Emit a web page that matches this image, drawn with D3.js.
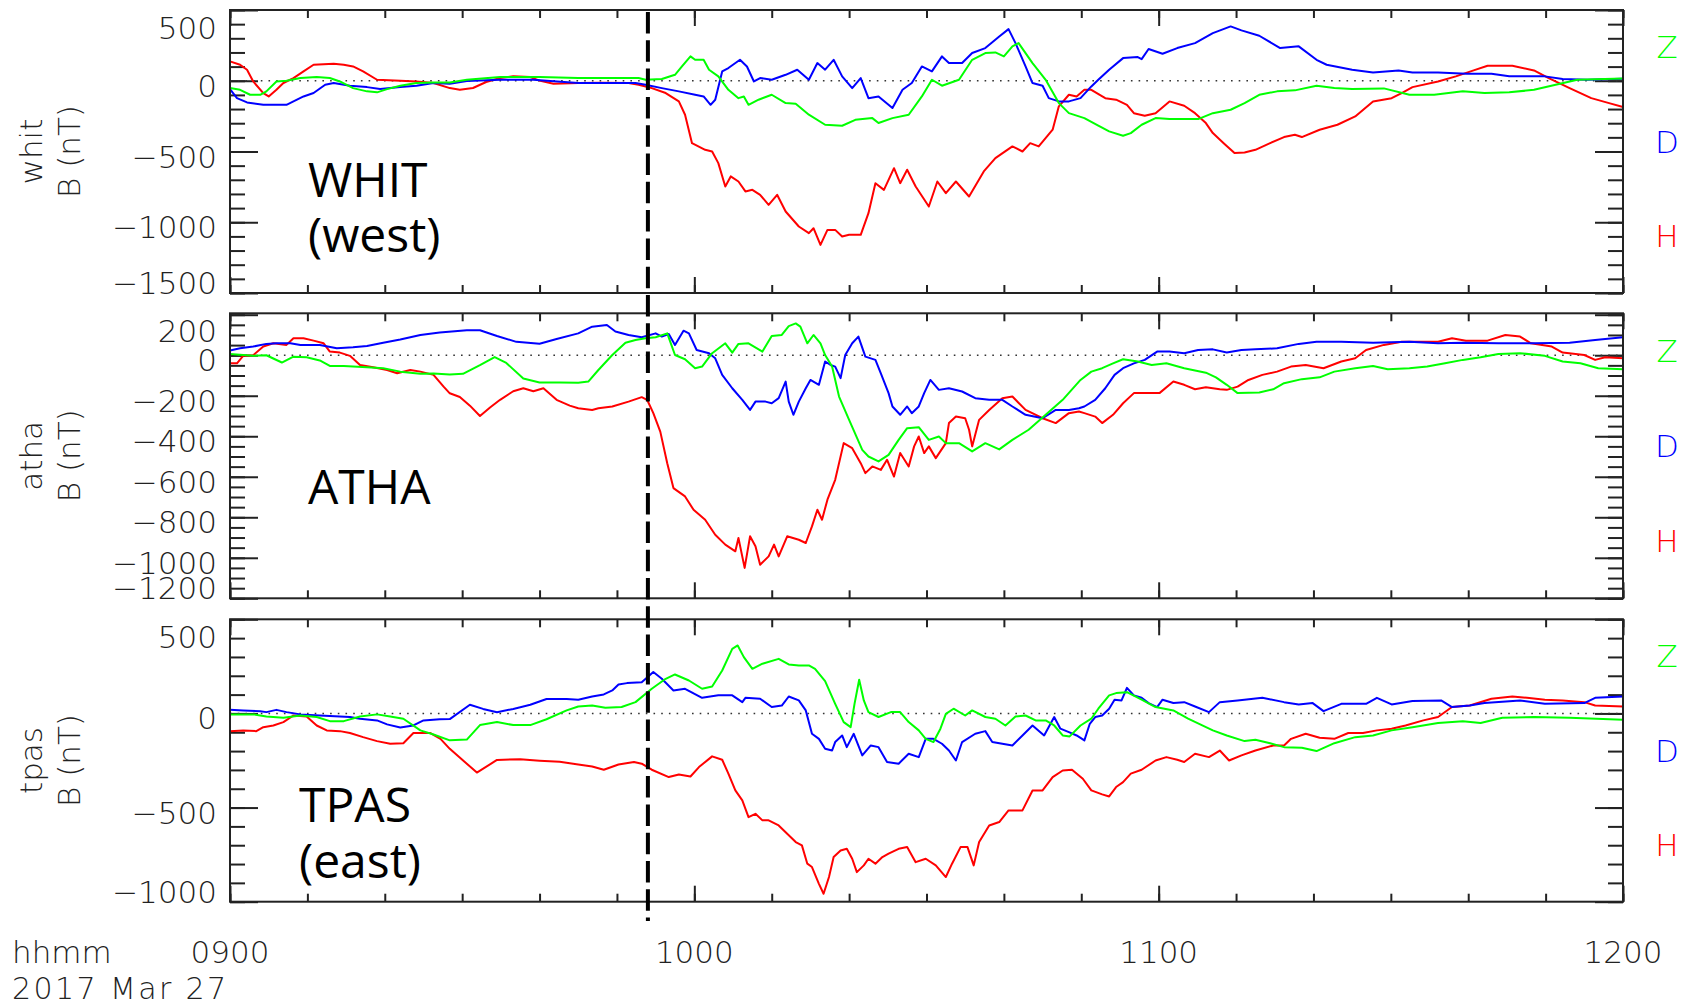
<!DOCTYPE html>
<html>
<head>
<meta charset="utf-8">
<script src="https://cdn.jsdelivr.net/npm/d3@7"></script>
<style>
  body { margin: 0; background: #fff; }
  svg { display: block; }
  .hershey { font-family: "DejaVu Sans", sans-serif; font-weight: 200; fill: #222; }
  .station { font-family: "Open Sans", "Noto Sans", sans-serif; font-size: 48px; fill: #000; }
</style>
</head>
<body>
<div id="chart"></div>
<script>
// time in minutes after 09:00, field in nT

// WHIT (west)
const whitH = [[0,137],[1.3,113],[2.2,78],[3.0,-5],[4.3,-87],[5.0,-111],[6.0,-64],[6.9,-16],[8.2,19],[9.5,66],[10.8,113],[13.4,120],[14.7,113],[15.9,101],[17.2,66],[19.0,7],[22.0,0],[24.1,-5],[26.3,-16],[28.4,-52],[29.7,-63],[31.4,-51],[33.1,-9],[34.9,19],[36.6,32],[38.8,26],[40.1,-1],[41.8,-21],[45.0,-16],[48,-14],[51.5,-16],[52.8,-28],[54.5,-52],[56.3,-87],[58.0,-146],[58.8,-240],[59.7,-441],[61.4,-488],[62.3,-500],[63.1,-582],[64.0,-747],[64.7,-676],[65.7,-712],[66.6,-782],[67.5,-771],[68.5,-806],[69.6,-877],[70.7,-806],[71.8,-924],[73.5,-1030],[74.8,-1077],[75.4,-1042],[76.3,-1160],[77.2,-1054],[78.2,-1054],[79.1,-1101],[80.0,-1089],[81.5,-1089],[82.5,-936],[83.4,-724],[84.5,-771],[85.8,-618],[86.6,-724],[87.5,-629],[88.6,-747],[90.3,-889],[91.4,-712],[92.5,-794],[93.8,-712],[95.5,-818],[97.4,-641],[98.9,-547],[101.1,-464],[102.4,-500],[103.4,-441],[104.5,-464],[106.3,-346],[107.1,-181],[108.4,-99],[109.4,-111],[110.4,-64],[111.3,-64],[113.1,-123],[114.5,-134],[115.9,-170],[116.8,-229],[118.2,-247],[119.6,-229],[121.4,-146],[123.3,-177],[124.7,-229],[126.1,-299],[127.0,-370],[128.4,-441],[129.8,-511],[131.1,-507],[132.5,-488],[134.4,-441],[136.2,-398],[137.6,-382],[138.5,-398],[140.8,-346],[143.1,-311],[145.4,-252],[147.7,-146],[150.1,-123],[151.4,-87],[152.8,-45],[156.1,-5],[158.4,31],[160.7,73],[162.5,106],[165.7,106],[168.5,73],[170.4,19],[173.1,-52],[175.9,-123],[178.2,-158],[180,-186]];
const whitD = [[0,-59],[0.9,-123],[2.2,-153],[4.3,-170],[7.3,-170],[8.2,-146],[9.5,-111],[10.8,-87],[12.3,-28],[13.4,-16],[15.5,-35],[17.7,-45],[19.4,-59],[22.0,-45],[24.1,-35],[26.3,-16],[28.4,-21],[30.6,-1],[34.9,7],[39.2,7],[41.4,-1],[45.0,-16],[52.4,-16],[53.7,-28],[55.8,-52],[58.0,-75],[60.1,-99],[61.2,-111],[62.1,-170],[62.7,-134],[63.6,66],[64.4,90],[65.9,148],[66.8,101],[67.7,-5],[68.5,19],[70.0,7],[71.8,42],[73.3,78],[74.8,7],[75.9,125],[76.9,78],[78.0,148],[79.1,31],[80.4,-52],[81.5,19],[82.5,-123],[83.8,-111],[85.6,-193],[86.9,-64],[88.1,-16],[89.4,101],[90.7,66],[92.0,172],[92.9,125],[94.6,125],[95.9,196],[97.6,231],[99.4,313],[100.6,365],[101.5,266],[102.8,101],[103.7,-16],[105.0,-35],[105.8,-123],[107.1,-146],[108.4,-146],[109.9,-123],[111.3,-40],[112.2,7],[113.6,78],[115.4,160],[117.3,167],[117.8,153],[118.7,224],[120.5,191],[122.4,231],[124.7,266],[127.0,337],[129.3,384],[130.7,356],[133.0,318],[135.7,231],[138.1,243],[140.4,148],[141.7,113],[145.0,78],[147.7,59],[151.0,73],[152.8,59],[156.1,59],[159.8,49],[163.0,49],[165.3,31],[169.9,31],[172.2,12],[175.4,7],[180,14]];
const whitZ = [[0,-52],[1.3,-64],[2.6,-99],[3.9,-99],[4.7,-75],[6.0,-5],[7.3,0],[9.1,19],[11.2,26],[12.9,19],[14.2,-5],[15.9,-52],[17.7,-75],[19.0,-82],[20.3,-59],[22.0,-35],[24.1,-16],[26.3,-12],[28.4,-12],[30.6,7],[34.9,26],[40,26],[45.0,19],[52.8,19],[53.7,7],[55.8,12],[57.5,42],[58.4,101],[59.5,172],[60.1,148],[61.2,148],[61.9,78],[63.1,31],[64.4,-64],[65.7,-123],[66.4,-111],[67.0,-170],[68.3,-134],[70.0,-99],[71.8,-158],[73.1,-163],[74.8,-240],[76.9,-311],[79.1,-318],[80.8,-276],[83.0,-264],[83.8,-299],[85.6,-264],[87.7,-240],[89.4,-111],[90.7,7],[92.0,-35],[94.2,7],[95.9,148],[97.6,196],[98.9,200],[100.0,172],[101.1,243],[101.9,266],[103.7,125],[105.4,7],[107.1,-158],[108.4,-229],[109.7,-252],[110.4,-264],[112.2,-318],[113.6,-358],[115.4,-389],[116.4,-370],[117.8,-311],[119.6,-264],[121.4,-271],[125.1,-271],[127.0,-229],[129.3,-205],[131.1,-158],[133.0,-99],[135.3,-75],[137.6,-68],[140.4,-35],[142.7,-52],[145.0,-59],[149.1,-54],[152.4,-99],[155.6,-99],[159.3,-75],[162.1,-87],[165.3,-82],[168.5,-64],[171.3,-28],[174.1,7],[180,16]];

// ATHA
const athaH = [[0,-40],[0.9,-40],[1.7,-3],[3.0,0],[4.3,43],[5.6,59],[7.3,51],[8.2,84],[9.5,84],[10.8,72],[12.1,59],[12.9,18],[14.2,13],[15.5,-3],[16.8,-48],[18.5,-59],[20.3,-73],[21.6,-89],[23.3,-73],[24.6,-81],[26.3,-97],[27.6,-155],[28.4,-188],[29.7,-206],[31.0,-249],[32.3,-300],[33.6,-258],[34.9,-220],[36.6,-178],[37.9,-163],[39.2,-178],[40.5,-163],[42.2,-220],[43.9,-249],[45.0,-262],[46.8,-270],[47.6,-262],[49.4,-253],[51.5,-229],[53.2,-207],[53.9,-220],[54.7,-286],[55.6,-377],[56.5,-533],[57.3,-656],[58.8,-697],[59.9,-763],[61.4,-812],[62.7,-886],[64.0,-935],[65.3,-968],[65.7,-902],[66.5,-1050],[67.2,-894],[67.9,-943],[68.5,-1034],[69.6,-993],[70.3,-935],[70.9,-993],[72.0,-894],[73.5,-911],[74.4,-927],[75.2,-845],[75.9,-763],[76.5,-812],[77.2,-713],[78.2,-615],[79.3,-434],[80.4,-459],[81.5,-533],[82.1,-582],[83.0,-549],[84.1,-566],[84.9,-516],[85.8,-599],[86.6,-483],[87.7,-549],[88.4,-450],[89.0,-401],[89.7,-483],[90.3,-450],[91.2,-508],[92.5,-434],[92.9,-335],[93.8,-303],[95.0,-311],[95.5,-368],[95.9,-450],[96.8,-319],[98.1,-270],[99.8,-212],[101.1,-204],[102.8,-270],[105.0,-311],[106.7,-335],[108.4,-286],[109.7,-278],[110.4,-286],[111.8,-303],[112.7,-335],[114.1,-294],[115.4,-237],[116.8,-187],[118.2,-187],[120.1,-187],[121.9,-130],[123.3,-146],[124.7,-168],[126.1,-158],[127.9,-168],[128.8,-171],[130.2,-155],[131.6,-122],[133.4,-97],[135.3,-81],[137.1,-56],[139.0,-48],[141.3,-64],[143.6,-31],[145.4,-15],[146.8,26],[149.1,51],[151.4,67],[153.7,67],[156.1,67],[157.9,84],[159.7,72],[162.5,72],[164.8,100],[166.7,92],[168.1,59],[170.8,43],[172.2,13],[175.0,1],[176.4,-23],[177.7,-10],[180,-15]];
const athaD = [[0,23],[1.3,34],[3.0,43],[4.7,56],[6.0,59],[7.8,59],[9.1,51],[11.6,51],[13.8,34],[15.9,39],[17.7,46],[19.8,62],[22.0,78],[24.6,100],[27.1,112],[30.6,123],[32.3,123],[34.5,95],[37.0,66],[40.0,57],[42.2,80],[45.0,108],[46.8,141],[48.7,149],[49.8,117],[51.5,100],[53.2,89],[55.0,108],[55.8,92],[56.7,105],[57.5,51],[58.6,121],[59.3,108],[60.3,26],[61.9,10],[62.7,-15],[63.6,-97],[64.9,-163],[66.2,-220],[67.2,-270],[67.9,-229],[69.2,-229],[70.0,-237],[70.9,-212],[71.8,-130],[72.2,-229],[72.8,-294],[73.5,-229],[74.4,-163],[75.0,-122],[76.1,-146],[76.9,-31],[77.6,-48],[78.2,-56],[78.9,-113],[79.5,1],[80.4,59],[81.2,92],[82.1,-7],[83.4,-23],[84.1,-89],[85.1,-187],[85.6,-253],[86.6,-294],[87.5,-253],[88.1,-286],[89.0,-253],[89.7,-187],[90.5,-122],[91.6,-171],[92.9,-163],[94.6,-179],[96.3,-212],[98.1,-220],[99.8,-220],[101.1,-253],[102.8,-294],[105.0,-311],[106.7,-270],[108.4,-270],[109.7,-262],[110.4,-253],[111.8,-220],[113.1,-163],[114.3,-97],[115.4,-64],[116.8,-40],[118.2,-23],[119.8,18],[121.4,18],[123.3,10],[125.1,26],[127.0,29],[128.8,13],[130.7,26],[132.5,29],[135.3,34],[138.1,56],[140.4,67],[143.6,67],[147.7,62],[152.4,66],[156.1,59],[159.3,62],[163.9,59],[168.5,59],[173.1,62],[176.4,75],[180,89]];
const athaZ = [[0,6],[3.0,-3],[4.7,0],[6.7,-36],[8.2,-7],[9.9,-10],[11.6,-26],[12.9,-53],[14.7,-53],[15.9,-56],[17.7,-59],[19.8,-64],[22.0,-81],[24.6,-92],[26.3,-90],[28.4,-95],[30.1,-92],[32.3,-49],[34.2,-9],[35.7,-38],[37.9,-115],[40.0,-135],[42.6,-135],[45.0,-136],[46.3,-130],[47.6,-73],[49.4,1],[51.1,62],[52.4,75],[53.7,84],[55.0,89],[56.5,108],[57.5,1],[58.8,-20],[60.1,-64],[61.0,-56],[62.3,10],[64.0,59],[64.9,13],[65.7,56],[67.0,59],[68.8,18],[70.0,95],[71.3,100],[72.2,144],[73.1,157],[73.7,141],[74.6,59],[75.4,100],[76.3,59],[76.9,1],[77.8,-56],[78.7,-204],[80.0,-319],[81.7,-467],[82.5,-500],[83.8,-524],[85.1,-492],[86.4,-418],[87.5,-360],[89.0,-355],[90.3,-418],[91.6,-401],[92.5,-434],[94.2,-434],[95.9,-475],[97.6,-434],[99.4,-465],[101.1,-418],[103.2,-368],[105.4,-294],[107.6,-220],[109.9,-122],[111.3,-81],[112.7,-64],[114.1,-40],[115.4,-20],[117.3,-31],[119.1,-48],[121.0,-40],[123.3,-64],[126.1,-86],[127.4,-109],[128.8,-146],[130.2,-187],[133.0,-184],[134.8,-168],[136.2,-138],[138.5,-118],[140.8,-109],[142.7,-81],[145.4,-64],[147.7,-53],[149.6,-69],[152.4,-64],[154.7,-56],[157.0,-40],[159.3,-23],[161.6,-10],[163.9,6],[166.7,10],[169.9,-3],[172.2,-31],[174.5,-40],[176.8,-64],[180,-69]];

// TPAS (east)
const tpasH = [[0,-94],[1.7,-90],[3.4,-94],[4.3,-73],[5.6,-64],[6.9,-46],[8.2,-11],[9.9,-16],[11.2,-64],[12.5,-90],[14.2,-94],[15.5,-104],[17.2,-126],[19.0,-147],[20.7,-161],[22.4,-158],[23.7,-104],[25.9,-104],[27.2,-135],[28.4,-188],[31.9,-314],[34.5,-247],[37.5,-243],[40.0,-251],[42.6,-257],[45.0,-271],[46.8,-282],[48.3,-299],[50.2,-271],[52.2,-258],[53.2,-267],[54.5,-299],[56.7,-338],[58.0,-324],[59.5,-335],[60.6,-285],[62.3,-228],[63.6,-246],[64.4,-320],[65.3,-409],[66.2,-462],[67.0,-551],[67.9,-533],[68.8,-568],[69.6,-568],[70.9,-595],[72.0,-639],[73.1,-683],[73.9,-701],[74.6,-798],[75.2,-816],[76.1,-905],[76.7,-958],[77.4,-869],[78.0,-763],[78.9,-728],[79.7,-719],[80.4,-772],[81.0,-843],[81.9,-807],[82.5,-772],[83.4,-798],[84.3,-763],[85.1,-745],[86.4,-719],[87.5,-710],[88.6,-790],[89.9,-772],[91.2,-807],[92.5,-869],[93.3,-798],[94.4,-710],[95.3,-710],[96.1,-807],[96.8,-683],[98.1,-595],[99.4,-577],[100.6,-515],[102.4,-515],[103.7,-409],[105.0,-409],[106.3,-338],[107.6,-303],[108.8,-299],[110.2,-347],[111.3,-409],[112.7,-430],[113.6,-441],[114.5,-391],[115.4,-365],[116.4,-320],[117.8,-299],[119.6,-250],[121.0,-232],[122.4,-246],[123.3,-258],[124.7,-214],[126.5,-232],[127.9,-197],[129.1,-250],[130.7,-223],[132.5,-197],[134.8,-170],[136.2,-170],[137.1,-135],[139.0,-108],[140.8,-129],[142.7,-135],[144.5,-104],[146.4,-104],[148.2,-90],[150.1,-81],[151.9,-64],[154.2,-37],[156.1,-19],[157.9,34],[160.2,42],[163.0,78],[165.7,90],[167.6,83],[169.9,73],[172.2,69],[175.0,60],[176.4,42],[180,37]];
const tpasD = [[0,19],[1.7,16],[3.9,12],[4.7,7],[6.0,19],[7.3,7],[9.1,-5],[11.6,-11],[15.5,-19],[16.8,-28],[19.0,-37],[20.3,-58],[22.0,-75],[23.7,-64],[25.0,-37],[27.1,-31],[28.4,-30],[31.0,46],[32.7,24],[34.5,6],[36.6,24],[38.8,46],[40.9,77],[43.5,77],[45.0,73],[46.8,90],[48.3,101],[49.4,122],[50.2,154],[51.3,161],[53.2,166],[54.7,220],[55.8,184],[57.3,122],[58.8,131],[61.0,83],[63.1,96],[64.9,96],[66.2,60],[66.6,83],[68.5,78],[70.0,34],[71.3,42],[72.2,90],[73.5,69],[74.4,16],[75.2,-108],[76.1,-135],[76.9,-188],[77.8,-197],[78.2,-152],[79.1,-117],[79.7,-179],[80.6,-108],[81.7,-223],[82.8,-170],[83.8,-179],[84.9,-258],[86.4,-267],[87.7,-214],[89.0,-232],[89.9,-135],[90.9,-135],[92.0,-161],[92.9,-197],[93.8,-250],[94.6,-152],[96.3,-108],[97.6,-94],[98.5,-152],[99.8,-161],[101.1,-170],[102.4,-117],[103.7,-64],[105.2,-117],[106.5,-19],[107.3,-81],[108.4,-99],[109.4,-117],[110.4,-143],[111.1,-55],[111.8,-19],[112.7,-11],[113.6,25],[114.3,73],[115.2,69],[115.9,136],[116.8,96],[117.8,83],[118.7,55],[119.8,34],[120.5,73],[121.9,55],[123.3,60],[124.7,37],[126.5,7],[127.9,60],[130.2,69],[133.4,83],[136.2,60],[138.1,48],[139.9,55],[141.3,12],[143.6,51],[146.8,51],[148.2,83],[150.1,48],[152.8,66],[156.5,69],[157.9,34],[160.2,42],[162.1,55],[166.7,69],[169.9,51],[175.0,55],[176.4,83],[180,90]];
const tpasZ = [[0,-5],[3.0,-5],[4.7,-16],[6.9,-23],[9.1,-11],[11.2,-19],[12.9,-41],[14.7,-41],[16.8,-16],[19.0,-5],[20.7,-16],[22.4,-28],[24.6,-90],[26.3,-112],[28.4,-143],[30.6,-139],[32.3,-62],[34.5,-46],[36.6,-62],[38.8,-62],[40.9,-31],[43.5,16],[45.0,37],[46.8,42],[48.5,30],[50.6,34],[52.4,60],[54.5,131],[56.3,184],[57.5,207],[59.3,175],[61.0,131],[62.3,143],[63.6,228],[64.9,343],[65.6,361],[66.4,299],[67.5,237],[68.8,264],[70.9,290],[72.2,260],[73.5,255],[74.8,255],[75.6,237],[76.9,172],[78.2,51],[79.3,-46],[80.2,-73],[80.7,51],[81.3,179],[81.9,69],[82.5,7],[83.8,-19],[85.4,7],[86.6,7],[87.7,-46],[89.0,-90],[89.9,-135],[90.9,-152],[91.8,-81],[92.5,-2],[93.5,25],[95.0,-11],[95.9,16],[97.6,-19],[98.9,-28],[100.2,-64],[101.5,-16],[102.8,-11],[104.1,-37],[105.4,-37],[106.5,-64],[107.6,-117],[108.5,-122],[109.9,-64],[111.3,-28],[112.2,25],[113.6,96],[114.5,108],[115.9,113],[117.8,73],[119.6,34],[121.9,16],[123.8,-28],[127.0,-90],[128.8,-117],[131.1,-147],[132.5,-140],[134.4,-158],[136.2,-179],[138.5,-182],[140.4,-200],[142.7,-158],[145.4,-126],[147.7,-117],[150.1,-90],[152.8,-73],[156.1,-51],[159.3,-41],[161.6,-51],[164.4,-23],[168.5,-19],[173.1,-23],[180,-34]];

// axis labels
const whitTicks = [500, 0, -500, -1000, -1500];
const athaTicks = [200, 0, -200, -400, -600, -800, -1000, -1200];
const tpasTicks = [500, 0, -500, -1000];
const timeTicks = [0, 60, 120, 180];
const timeLabels = ["0900", "1000", "1100", "1200"];
const componentNames = ["Z", "D", "H"];
const onsetTime = 54;   // 0954, dashed marker

const width = 1690, height = 1007;
const left = 230, right = 1623;
const colors = { H: "#ff0000", D: "#0000ff", Z: "#00ff00" };

const panels = [
  { id: "whit", title: ["WHIT", "(west)"], titleX: 308, titleY: [196.7, 251.7],
    top: 10, bottom: 293, domain: [-1500, 500], ticks: whitTicks, minor: 100,
    H: whitH, D: whitD, Z: whitZ },
  { id: "atha", title: ["ATHA"], titleX: 308, titleY: [504],
    top: 313.3, bottom: 598.3, domain: [-1200, 207], ticks: athaTicks, minor: 50,
    H: athaH, D: athaD, Z: athaZ },
  { id: "tpas", title: ["TPAS", "(east)"], titleX: 299, titleY: [821.7, 878.3],
    top: 619.3, bottom: 901.7, domain: [-1000, 500], ticks: tpasTicks, minor: 100,
    H: tpasH, D: tpasD, Z: tpasZ }
];

const svg = d3.select("#chart").append("svg")
    .attr("width", width)
    .attr("height", height);

const defs = svg.append("defs");
defs.append("filter").attr("id", "blur")
    .append("feGaussianBlur").attr("stdDeviation", 2.2);

const x = d3.scaleLinear().domain([0, 180]).range([left, right]);
const minorTimes = d3.range(0, 181, 10);

panels.forEach(p => {
    const y = d3.scaleLinear().domain(p.domain).range([p.bottom, p.top]);
    const g = svg.append("g").attr("class", "panel-" + p.id);
    const minorVals = d3.range(Math.ceil(p.domain[0] / p.minor) * p.minor, p.domain[1] + 1, p.minor);

    // ticks, all pointing inward
    const tickStyle = sel => {
        sel.select(".domain").remove();
        sel.selectAll(".tick line").attr("stroke", "#222").attr("stroke-width", 2);
    };
    g.append("g").attr("transform", `translate(${left},0)`)
        .call(d3.axisLeft(y).tickValues(minorVals).tickSize(-15).tickFormat("")).call(tickStyle);
    g.append("g").attr("transform", `translate(${left},0)`)
        .call(d3.axisLeft(y).tickValues(p.ticks).tickSize(-28).tickFormat("")).call(tickStyle);
    g.append("g").attr("transform", `translate(${right},0)`)
        .call(d3.axisRight(y).tickValues(minorVals).tickSize(-15).tickFormat("")).call(tickStyle);
    g.append("g").attr("transform", `translate(${right},0)`)
        .call(d3.axisRight(y).tickValues(p.ticks).tickSize(-28).tickFormat("")).call(tickStyle);
    g.append("g").attr("transform", `translate(0,${p.top})`)
        .call(d3.axisTop(x).tickValues(minorTimes).tickSize(-8).tickFormat("")).call(tickStyle);
    g.append("g").attr("transform", `translate(0,${p.top})`)
        .call(d3.axisTop(x).tickValues(timeTicks).tickSize(-16).tickFormat("")).call(tickStyle);
    g.append("g").attr("transform", `translate(0,${p.bottom})`)
        .call(d3.axisBottom(x).tickValues(minorTimes).tickSize(-8).tickFormat("")).call(tickStyle);
    g.append("g").attr("transform", `translate(0,${p.bottom})`)
        .call(d3.axisBottom(x).tickValues(timeTicks).tickSize(-16).tickFormat("")).call(tickStyle);

    // y tick labels (end labels kept inside the panel)
    g.selectAll(".ylab").data(p.ticks).join("text")
        .attr("class", "hershey")
        .attr("font-size", 31)
        .attr("text-anchor", "end")
        .attr("x", 217)
        .attr("y", d => Math.max(p.top + 18, Math.min(p.bottom - 10, y(d) + 5)) + 11)
        .text(d => d < 0 ? "\u2212" + Math.abs(d) : d);

    // y title
    const mid = (p.top + p.bottom) / 2;
    g.append("text").attr("class", "hershey").attr("font-size", 31)
        .attr("text-anchor", "middle")
        .attr("transform", `translate(42,${mid}) rotate(-90)`)
        .text(p.id);
    g.append("text").attr("class", "hershey").attr("font-size", 31)
        .attr("text-anchor", "middle")
        .attr("transform", `translate(80,${mid}) rotate(-90)`)
        .text("B (nT)");

    // zero line
    g.append("line")
        .attr("x1", left).attr("x2", right)
        .attr("y1", y(0)).attr("y2", y(0))
        .attr("stroke", "#333").attr("stroke-width", 1.6)
        .attr("stroke-dasharray", "1.6 6.1");

    // traces
    const line = d3.line().x(d => x(d[0])).y(d => y(d[1]));
    ["H", "D", "Z"].forEach(c => {
        g.append("path")
            .datum(p[c])
            .attr("fill", "none")
            .attr("stroke", colors[c])
            .attr("stroke-width", 2)
            .attr("stroke-linejoin", "round")
            .attr("d", line);
    });

    // frame
    g.append("rect")
        .attr("x", left).attr("y", p.top)
        .attr("width", right - left).attr("height", p.bottom - p.top)
        .attr("fill", "none").attr("stroke", "#222").attr("stroke-width", 2);

    // component labels on the right
    const h = p.bottom - p.top;
    componentNames.forEach((c, i) => {
        g.append("text").attr("class", "hershey")
            .attr("font-size", 31)
            .attr("text-anchor", "middle")
            .attr("x", 1667)
            .attr("y", p.top + [37, 132, 226][i] * h / 283 + 11)
            .style("fill", colors[c])
            .text(c);
    });

    // station name
    p.title.forEach((t, i) => {
        g.append("text").attr("class", "station")
            .attr("x", p.titleX).attr("y", p.titleY[i])
            .text(t);
    });
});

// time labels under the last panel
svg.selectAll(".xlab").data(timeTicks).join("text")
    .attr("class", "hershey")
    .attr("font-size", 31)
    .attr("text-anchor", "middle")
    .attr("x", d => x(d))
    .attr("y", 962.7)
    .text((d, i) => timeLabels[i]);

svg.append("text").attr("class", "hershey").attr("font-size", 31)
    .attr("x", 12).attr("y", 962.7).text("hhmm");
svg.append("text").attr("class", "hershey").attr("font-size", 30)
    .attr("x", 12).attr("y", 999).attr("letter-spacing", 2.4).text("2017 Mar 27");

// onset marker
const xo = x(onsetTime);
svg.append("line")
    .attr("x1", xo).attr("x2", xo).attr("y1", 12).attr("y2", 921)
    .attr("stroke", "#999").attr("stroke-width", 8).attr("opacity", 0.55)
    .attr("stroke-dasharray", "21.5 6.8")
    .attr("filter", "url(#blur)");
svg.append("line")
    .attr("x1", xo).attr("x2", xo).attr("y1", 12).attr("y2", 921)
    .attr("stroke", "#000").attr("stroke-width", 4)
    .attr("stroke-dasharray", "21.5 6.8");
</script>
</body>
</html>
